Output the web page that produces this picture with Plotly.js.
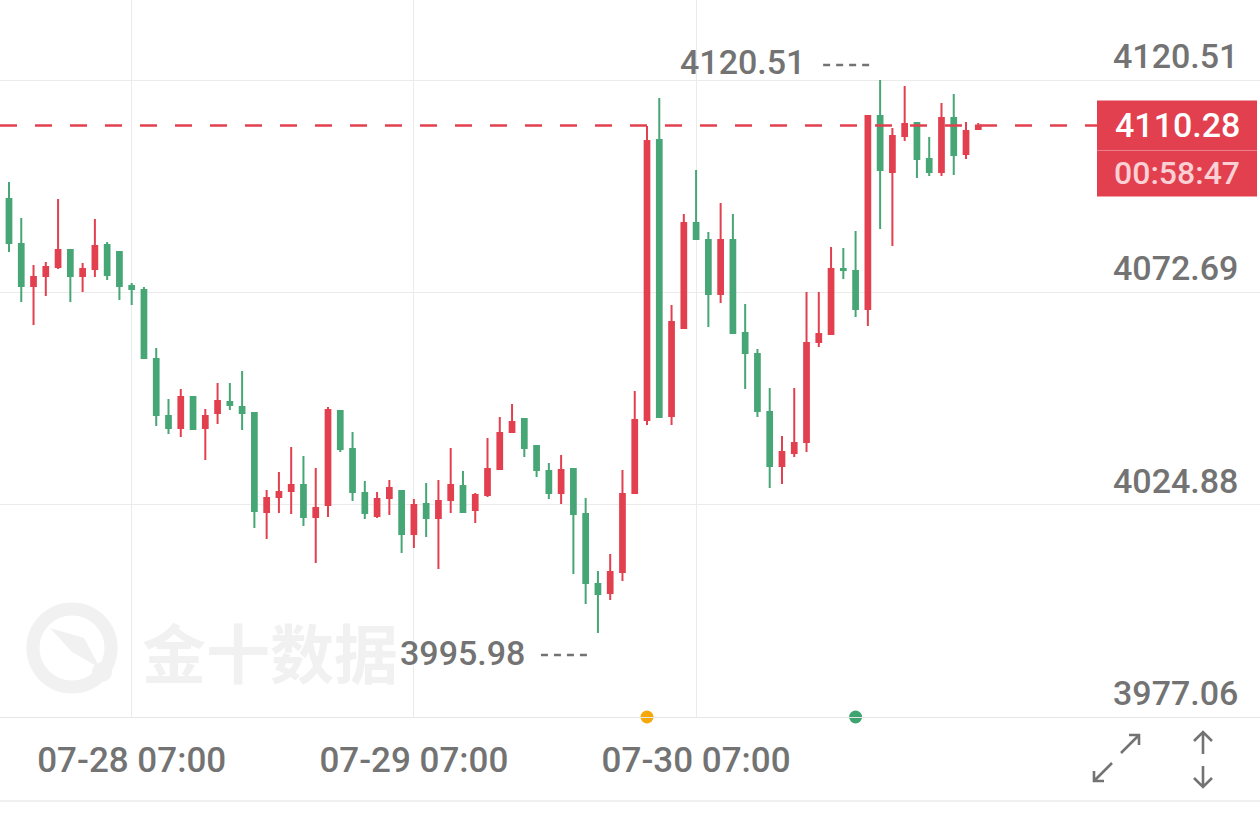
<!DOCTYPE html>
<html><head><meta charset="utf-8">
<script src="https://cdn.plot.ly/plotly-3.0.1.min.js"></script>
<style>html,body{margin:0;padding:0;background:#fff;overflow:hidden}#chart{width:1260px;height:820px}</style>
</head><body><div id="chart"></div>
<script>
// ---- data (hourly candles, index 0..79) ----
const openP = [4093.72,4083.58,4074.12,4076.37,4078.40,4082.23,4076.37,4077.95,4083.36,4081.78,
 4074.12,4073.22,4057.68,4044.85,4042.14,4049.13,4042.14,4045.52,4048.00,4046.87,
 4045.52,4023.23,4026.61,4027.96,4029.31,4022.10,4024.80,4045.97,4037.42,4027.51,
 4022.33,4026.38,4027.96,4018.27,4025.03,4021.88,4025.93,4029.08,4023.68,4027.06,
 4032.91,4041.24,4044.17,4038.09,4032.46,4027.51,4032.91,4022.78,4007.01,4004.99,
 4009.72,4027.51,4043.95,4107.00,4044.85,4064.66,4088.31,4084.48,4072.32,4084.48,
 4063.54,4058.81,4045.75,4033.59,4036.51,4038.99,4061.51,4063.31,4077.95,4077.50,
 4068.94,4112.41,4099.80,4107.90,4110.83,4102.72,4099.80,4111.96,4103.85,4109.48];
const highP = [4097.54,4089.44,4078.85,4079.53,4093.72,4082.23,4079.30,4089.21,4084.03,4081.78,
 4074.80,4073.90,4060.16,4048.68,4050.93,4049.35,4046.42,4052.28,4052.28,4054.98,
 4045.75,4028.18,4032.24,4037.87,4035.84,4033.14,4046.87,4046.20,4041.24,4030.21,
 4027.73,4030.43,4028.18,4026.16,4029.76,4030.43,4037.64,4032.46,4027.51,4039.89,
 4044.62,4047.55,4044.40,4038.32,4034.26,4036.06,4033.14,4026.38,4009.94,4013.77,
 4032.69,4050.48,4110.15,4116.46,4069.84,4090.34,4100.25,4086.28,4092.81,4090.34,
 4070.07,4059.94,4051.15,4040.34,4051.15,4072.77,4072.77,4082.91,4082.68,4086.51,
 4112.63,4120.51,4109.70,4119.16,4111.06,4107.68,4115.33,4117.36,4111.06,4110.83];
const lowP = [4081.78,4070.52,4065.34,4071.87,4077.95,4070.52,4072.77,4076.15,4075.47,4070.97,
 4069.84,4057.68,4042.59,4040.79,4040.12,4041.69,4034.94,4043.05,4046.20,4041.69,
 4019.62,4017.15,4023.00,4022.78,4020.07,4011.74,4022.10,4036.74,4025.70,4021.65,
 4021.88,4022.55,4013.99,4015.12,4017.60,4010.39,4023.00,4023.23,4020.75,4026.61,
 4032.91,4041.24,4035.61,4031.11,4026.16,4025.03,4009.27,4002.51,3995.98,4003.41,
 4007.69,4027.28,4042.82,4044.40,4042.82,4064.44,4084.48,4064.89,4070.29,4063.54,
 4050.93,4044.62,4028.63,4029.53,4035.61,4036.74,4060.39,4063.09,4075.70,4067.14,
 4065.11,4086.96,4083.13,4106.78,4098.44,4098.89,4098.89,4099.12,4102.72,4109.48];
const closeP = [4083.81,4074.12,4076.15,4078.40,4082.23,4076.37,4077.95,4083.13,4076.60,4074.12,
 4073.45,4057.91,4045.07,4042.14,4049.13,4041.92,4044.85,4048.22,4047.32,4045.52,
 4023.45,4026.38,4027.73,4029.31,4022.10,4024.13,4046.20,4037.42,4027.73,4023.00,
 4026.16,4028.63,4018.27,4024.80,4021.88,4025.70,4029.31,4023.23,4027.06,4032.91,
 4041.02,4043.50,4037.64,4032.69,4027.51,4032.69,4022.78,4007.24,4004.76,4009.72,
 4027.28,4043.95,4106.78,4044.62,4066.02,4088.31,4084.71,4072.32,4084.48,4063.54,
 4059.03,4045.97,4033.59,4036.74,4038.77,4061.29,4063.31,4077.95,4077.73,4068.94,
 4112.41,4100.25,4107.90,4110.61,4102.72,4099.80,4111.96,4103.62,4109.03,4110.28];
const tickIdx = [10, 33, 56];
const tickLabels = ['07-28 07:00', '07-29 07:00', '07-30 07:00'];
const yTicks = [3977.06, 4024.88, 4072.69, 4120.51];
const lastPrice = 4110.28;
const countdown = '00:58:47';
const eventIdx = [52, 69];
const eventColors = ['#F5A80C', '#3FA46F'];
const watermark = '金十数据';

// ---- styling / layout helpers ----
const W = 1260, PB = 717;
const UP = '#E2404F', DN = '#47A676', GRAY = '#737373';
const idx = openP.map((_, i) => i);
const xr = [-0.733, 101.96];
const yr = [3977.06, 4138.53];
const px = v => v / W;
const py = v => (PB - v) / PB;
const pth = pts => pts.map((p, i) => (i ? 'L' : 'M') + px(p[0]).toFixed(5) + ',' + py(p[1]).toFixed(5)).join(' ');

let iMax = 0, iMin = 0;
highP.forEach((v, i) => { if (v > highP[iMax]) iMax = i; });
lowP.forEach((v, i) => { if (v < lowP[iMin]) iMin = i; });

const lblFont = { family: 'Roboto, sans-serif', size: 34, color: GRAY, weight: 500 };

const traces = [
  {
    type: 'candlestick', x: idx, open: openP, high: highP, low: lowP, close: closeP,
    increasing: { line: { color: UP, width: 2 }, fillcolor: UP },
    decreasing: { line: { color: DN, width: 2 }, fillcolor: DN },
    whiskerwidth: 0, hoverinfo: 'skip', showlegend: false
  },
  {
    type: 'scatter', mode: 'markers', x: eventIdx, y: eventIdx.map(() => yr[0]),
    marker: { size: 13, color: eventColors }, cliponaxis: false, hoverinfo: 'skip', showlegend: false
  }
];

const iconLine = { color: GRAY, width: 2.6 };
const shapes = [
  // watermark logo
  { type: 'circle', xref: 'paper', yref: 'paper', x0: px(33), x1: px(111), y0: py(687), y1: py(609), line: { color: '#f1f1f1', width: 13 }, layer: 'below' },
  { type: 'path', xref: 'paper', yref: 'paper', path: pth([[50, 628], [84, 638], [100, 668], [72, 652]]) + ' Z', fillcolor: '#f1f1f1', line: { width: 0 }, layer: 'below' },
  { type: 'circle', xref: 'paper', yref: 'paper', x0: px(92), x1: px(112), y0: py(682), y1: py(662), fillcolor: '#f1f1f1', line: { width: 0 }, layer: 'below' },
  // last price dashed line
  { type: 'line', xref: 'paper', x0: 0, x1: px(1097), yref: 'y', y0: lastPrice, y1: lastPrice, line: { color: UP, width: 2.5, dash: '17px,18px' }, layer: 'above' },
  // price box
  { type: 'rect', xref: 'paper', x0: px(1097), x1: px(1257), yref: 'y', ysizemode: 'pixel', yanchor: lastPrice, y0: -71, y1: 25, fillcolor: UP, line: { width: 0 }, layer: 'above' },
  { type: 'line', xref: 'paper', x0: px(1097), x1: px(1257), yref: 'y', ysizemode: 'pixel', yanchor: lastPrice, y0: -25, y1: -25, line: { color: 'rgba(255,255,255,0.35)', width: 1 }, layer: 'above' },
  // max / min pointers
  { type: 'line', xref: 'x', xsizemode: 'pixel', xanchor: iMax, x0: -57, x1: -7, yref: 'y', ysizemode: 'pixel', yanchor: highP[iMax], y0: 15, y1: 15, line: { color: GRAY, width: 2.4, dash: '7px,6px' } },
  { type: 'line', xref: 'x', xsizemode: 'pixel', xanchor: iMin, x0: -57, x1: -6, yref: 'y', ysizemode: 'pixel', yanchor: lowP[iMin], y0: -22, y1: -22, line: { color: GRAY, width: 2.4, dash: '7px,6px' } },
  // bottom separator
  { type: 'line', xref: 'paper', x0: 0, x1: 1, yref: 'paper', y0: py(801), y1: py(801), line: { color: '#ebebeb', width: 1.5 } },
  // icons
  { type: 'path', xref: 'paper', yref: 'paper', path: pth([[1121, 753], [1139, 735]]) + ' ' + pth([[1129, 735], [1139, 735], [1139, 745]]), line: iconLine },
  { type: 'path', xref: 'paper', yref: 'paper', path: pth([[1112, 763], [1094, 781]]) + ' ' + pth([[1094, 771], [1094, 781], [1104, 781]]), line: iconLine },
  { type: 'path', xref: 'paper', yref: 'paper', path: pth([[1203, 754], [1203, 732]]) + ' ' + pth([[1194, 741], [1203, 732], [1212, 741]]), line: iconLine },
  { type: 'path', xref: 'paper', yref: 'paper', path: pth([[1203, 766], [1203, 787]]) + ' ' + pth([[1194, 778], [1203, 787], [1212, 778]]), line: iconLine }
];

const annotations = [
  { text: watermark, xref: 'paper', yref: 'paper', x: px(140), y: py(650), xanchor: 'left', yanchor: 'middle', showarrow: false,
    font: { family: 'Noto Sans CJK SC, sans-serif', size: 64, color: '#f1f1f1', weight: 700 } }
];
yTicks.forEach(v => annotations.push({
  text: v.toFixed(2), xref: 'paper', x: px(1240), xanchor: 'right', yref: 'y', y: v, yanchor: 'middle', yshift: 24,
  showarrow: false, font: lblFont
}));
annotations.push({ text: highP[iMax].toFixed(2), xref: 'x', x: iMax, xanchor: 'right', xshift: -73, yref: 'y', y: highP[iMax], yanchor: 'middle', yshift: 18, showarrow: false, font: lblFont });
annotations.push({ text: lowP[iMin].toFixed(2), xref: 'x', x: iMin, xanchor: 'right', xshift: -71, yref: 'y', y: lowP[iMin], yanchor: 'middle', yshift: -20, showarrow: false, font: lblFont });
annotations.push({ text: lastPrice.toFixed(2), xref: 'paper', x: px(1177), xanchor: 'center', yref: 'y', y: lastPrice, yanchor: 'middle', showarrow: false,
  font: { family: 'Roboto, sans-serif', size: 34, color: '#ffffff', weight: 500 } });
annotations.push({ text: countdown, xref: 'paper', x: px(1177), xanchor: 'center', yref: 'y', y: lastPrice, yanchor: 'middle', yshift: -48, showarrow: false,
  font: { family: 'Roboto, sans-serif', size: 32, color: '#FAD0D5', weight: 500 } });

const layout = {
  width: 1260, height: 820,
  margin: { l: 0, r: 0, t: 0, b: 103, pad: 0 },
  paper_bgcolor: '#ffffff', plot_bgcolor: '#ffffff',
  showlegend: false, hovermode: false, boxgap: 0.45,
  xaxis: {
    type: 'linear', range: xr, tickvals: tickIdx, ticktext: tickLabels,
    showgrid: true, gridcolor: '#ebebeb', gridwidth: 1, zeroline: false,
    showline: true, linecolor: '#e6e6e6', linewidth: 1, ticks: '',
    tickfont: { family: 'Roboto, sans-serif', size: 35, color: GRAY, weight: 500 },
    ticklabelstandoff: 12, rangeslider: { visible: false }, fixedrange: true
  },
  yaxis: {
    range: yr, tickvals: yTicks, showticklabels: false, side: 'right',
    showgrid: true, gridcolor: '#ebebeb', gridwidth: 1, zeroline: false, fixedrange: true
  },
  shapes: shapes,
  annotations: annotations
};

Plotly.newPlot('chart', traces, layout, { staticPlot: true, displayModeBar: false });
</script>
</body></html>
